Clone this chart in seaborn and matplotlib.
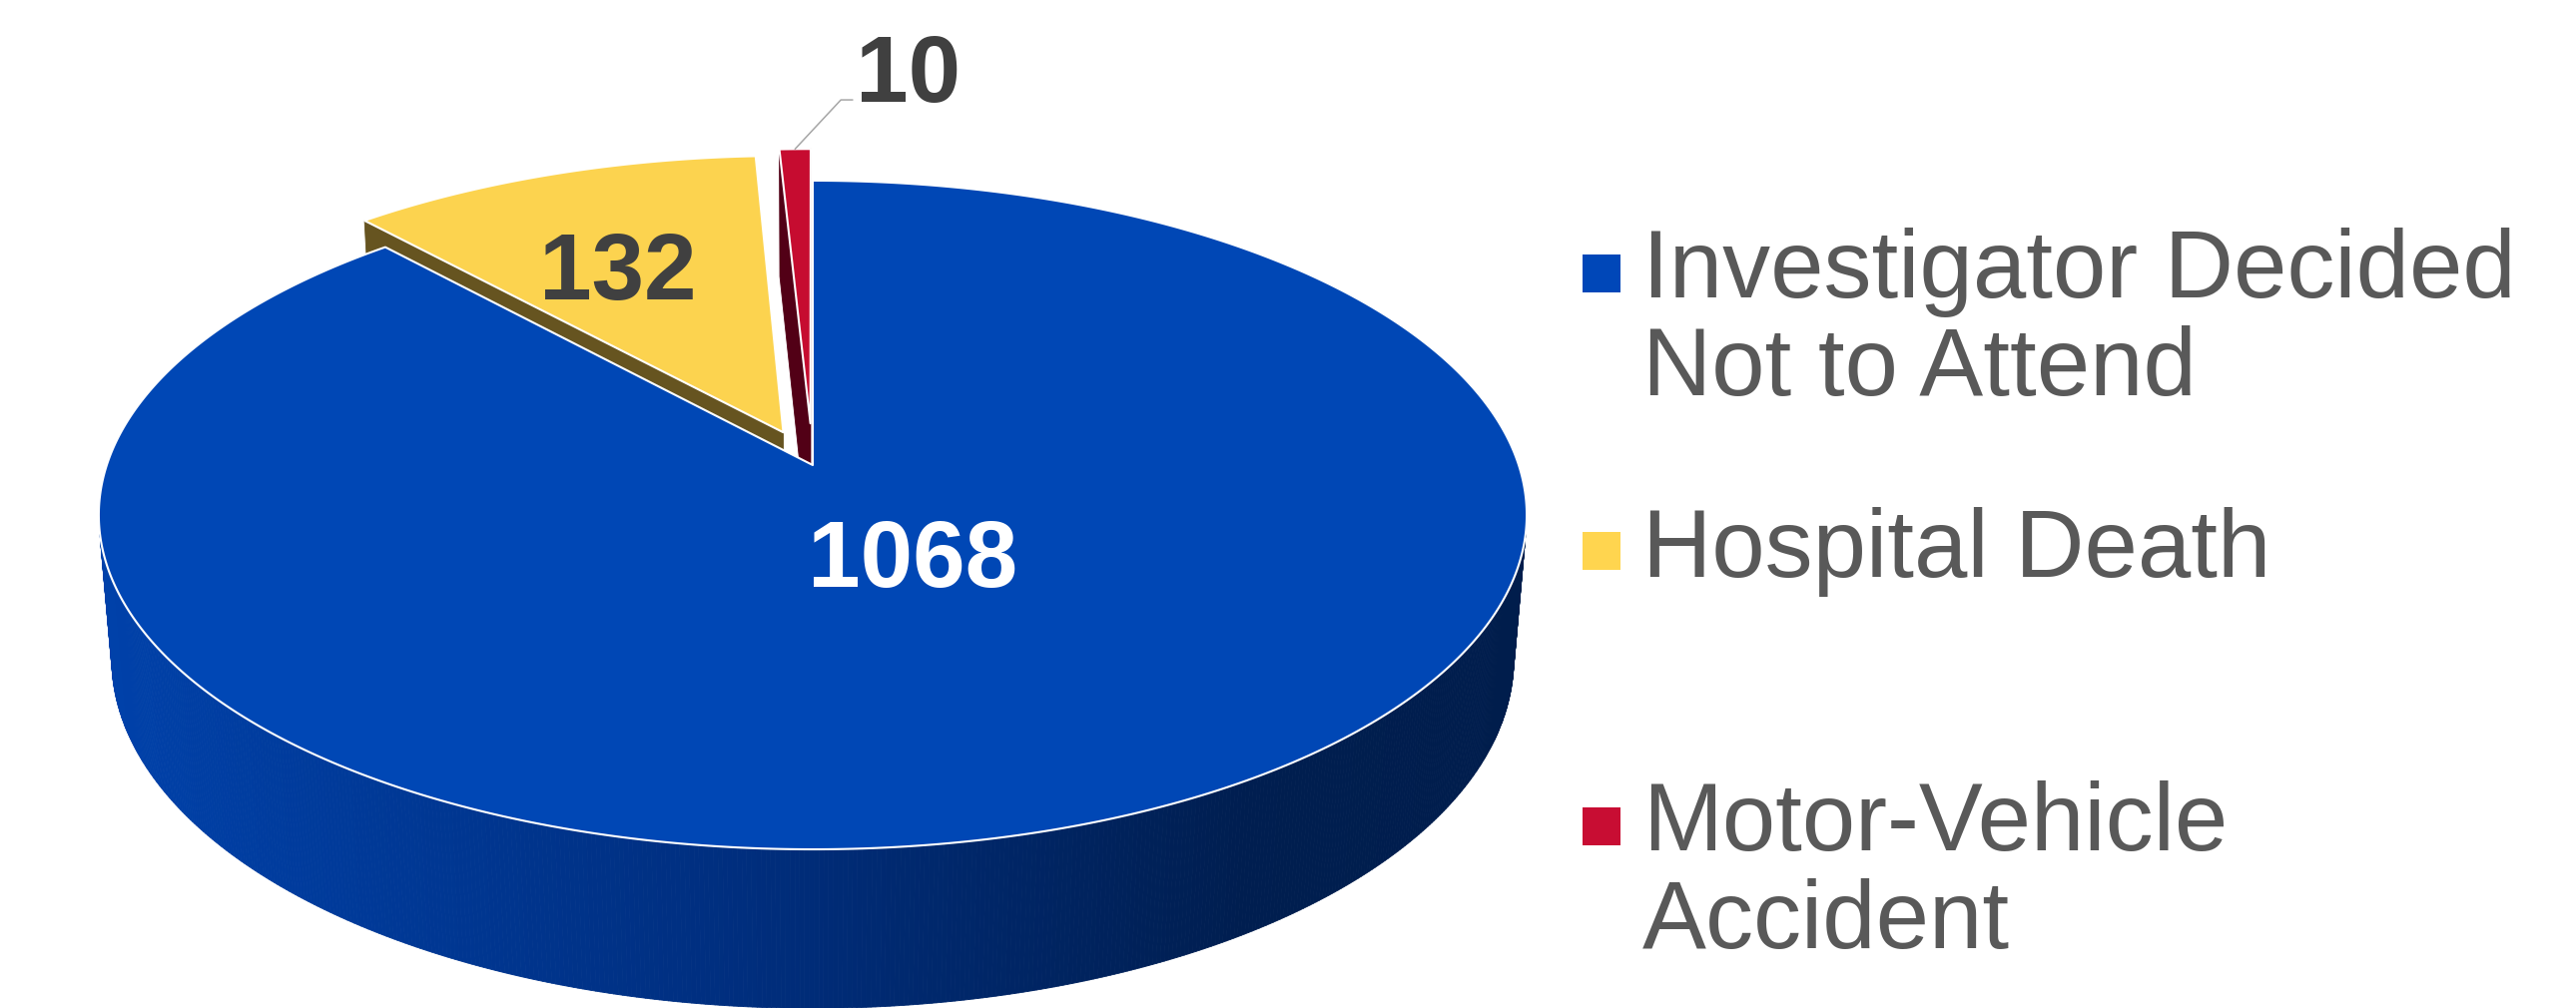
import numpy as np
import matplotlib.pyplot as plt
import seaborn as sns
from matplotlib.patches import Polygon
from matplotlib.collections import PolyCollection
from matplotlib.colors import LinearSegmentedColormap

# data
categories = ["Investigator Decided\nNot to Attend", "Hospital Death", "Motor-Vehicle\nAccident"]
counts = [1068, 132, 10]
top_colors = ["#0047B5", "#FCD34F", "#C60C30"]
legend_colors = ["#0047B8", "#FFD54F", "#C80D33"]
wall_colors = [None, "#665420", "#520016"]  # None -> shaded blue side
explode = [0.0, 0.11, 0.13]

sns.set_theme(style="white")
plt.rcParams["font.family"] = ["Liberation Sans", "DejaVu Sans"]

# perspective view of the tilted disc, in pixel units
TILT = np.radians(27.6)
DIST = 5.94
FOCAL = 4200
CX, CY = 814, 466
THICK = 0.232
COS_T, SIN_T = np.cos(TILT), np.sin(TILT)
CAM = np.array([0.0, -DIST * COS_T, DIST * SIN_T])


def project(x, y, z):
    depth = DIST + y * COS_T - z * SIN_T
    return CX + FOCAL * x / depth, CY - FOCAL * (y * SIN_T + z * COS_T) / depth, depth


side_cmap = LinearSegmentedColormap.from_list(
    "side", [(0, "#0041AA"), (0.45, "#002E7E"), (0.8, "#001E50"), (1, "#001D4C")]
)
half_w = FOCAL * 0.17025
x_min, x_max = CX - half_w, CX + half_w


def wall_color(i, sx):
    if wall_colors[i] is not None:
        return wall_colors[i]
    return side_cmap(np.clip((sx - x_min) / (x_max - x_min), 0, 1))


# slices go clockwise from 12 o'clock
total = sum(counts)
spans = [c / total * 360 for c in counts]
starts = 90 - np.concatenate([[0], np.cumsum(spans)[:-1]])
slices = []
for i, (a0, span) in enumerate(zip(starts, spans)):
    a1 = a0 - span
    mid = np.radians(a0 - span / 2)
    slices.append(dict(
        lo=np.radians(a1), hi=np.radians(a0), mid=mid,
        ex=explode[i] * np.cos(mid), ey=explode[i] * np.sin(mid),
        th=np.radians(np.linspace(a1, a0, max(int(span * 3), 4))),
    ))

fig = plt.figure(figsize=(25.8, 10.1), dpi=100)
ax = fig.add_axes([0, 0, 1, 1])

# side walls, painted far to near
faces = []
for i, s in enumerate(slices):
    ex, ey = s["ex"], s["ey"]
    th = s["th"]
    for t0, t1 in zip(th[:-1], th[1:]):
        tm = (t0 + t1) / 2
        if -1 - ex * np.cos(tm) - (DIST * COS_T + ey) * np.sin(tm) <= 0:
            continue
        xs = ex + np.cos([t0, t1])
        ys = ey + np.sin([t0, t1])
        px0, py0, _ = project(xs, ys, 0)
        px1, py1, _ = project(xs[::-1], ys[::-1], -THICK)
        verts = np.column_stack([np.r_[px0, px1], np.r_[py0, py1]])
        sx, _, depth = project(ex + np.cos(tm), ey + np.sin(tm), -THICK / 2)
        faces.append((depth, verts, wall_color(i, sx)))
    for ang, nang in ((s["lo"], s["lo"] - np.pi / 2), (s["hi"], s["hi"] + np.pi / 2)):
        mx, my = ex + 0.5 * np.cos(ang), ey + 0.5 * np.sin(ang)
        to_cam = CAM - np.array([mx, my, -THICK / 2])
        if np.cos(nang) * to_cam[0] + np.sin(nang) * to_cam[1] <= 1e-9:
            continue
        rx, ry = ex + np.cos(ang), ey + np.sin(ang)
        pts = [project(ex, ey, 0), project(rx, ry, 0), project(rx, ry, -THICK), project(ex, ey, -THICK)]
        verts = np.array([p[:2] for p in pts])
        sx, _, depth = project(mx, my, -THICK / 2)
        faces.append((depth, verts, wall_color(i, sx)))

faces.sort(key=lambda f: -f[0])
ax.add_collection(PolyCollection(
    [f[1] for f in faces], facecolors=[f[2] for f in faces],
    edgecolors=[f[2] for f in faces], linewidths=0.6,
))

# top faces
for i, s in enumerate(slices):
    xs = np.r_[s["ex"], s["ex"] + np.cos(s["th"])]
    ys = np.r_[s["ey"], s["ey"] + np.sin(s["th"])]
    px, py, _ = project(xs, ys, 0)
    ax.add_patch(Polygon(np.column_stack([px, py]), closed=True, facecolor=top_colors[i],
                         edgecolor="white", linewidth=1.5, joinstyle="round"))

# data labels
label_r = [0.29, 0.63]
label_turn = [7, 2]
label_colors = ["white", "#404040"]
for i in range(2):
    s = slices[i]
    a = s["mid"] + np.radians(label_turn[i])
    lx, ly, _ = project(s["ex"] + label_r[i] * np.cos(a), s["ey"] + label_r[i] * np.sin(a), 0)
    ax.text(lx, ly, f"{counts[i]}", ha="center", va="center_baseline", fontsize=68,
            fontweight="bold", color=label_colors[i])

s = slices[2]
rx, ry, _ = project(s["ex"] + np.cos(s["mid"]), s["ey"] + np.sin(s["mid"]), 0)
ax.annotate(
    f"{counts[2]}", xy=(rx, ry), xytext=(61, 47), textcoords="offset pixels",
    ha="left", va="baseline", fontsize=68, fontweight="bold", color="#404040",
    arrowprops=dict(arrowstyle="-", color="#A6A6A6", linewidth=1.1, shrinkA=0, shrinkB=0,
                    relpos=(0, 0.25), connectionstyle="angle,angleA=0,angleB=47,rad=0"),
)

# legend (first-line baselines; the label is anchored on its last line)
legend_x, text_x = 1604, 1645
baselines = [300, 578, 854]
line_step = 96
for color, label, yb in zip(legend_colors, categories, baselines):
    ax.scatter([legend_x], [yb - 26], marker="s", s=27.4 ** 2, color=color, linewidths=0)
    n_extra = label.count("\n")
    ax.text(text_x, yb + n_extra * line_step, label, fontsize=69, color="#595959",
            ha="left", va="baseline", linespacing=1.12)

ax.set_xlim(0, 2580)
ax.set_ylim(1010, 0)
ax.axis("off")

fig.savefig("out.png", dpi=100, facecolor="white")
